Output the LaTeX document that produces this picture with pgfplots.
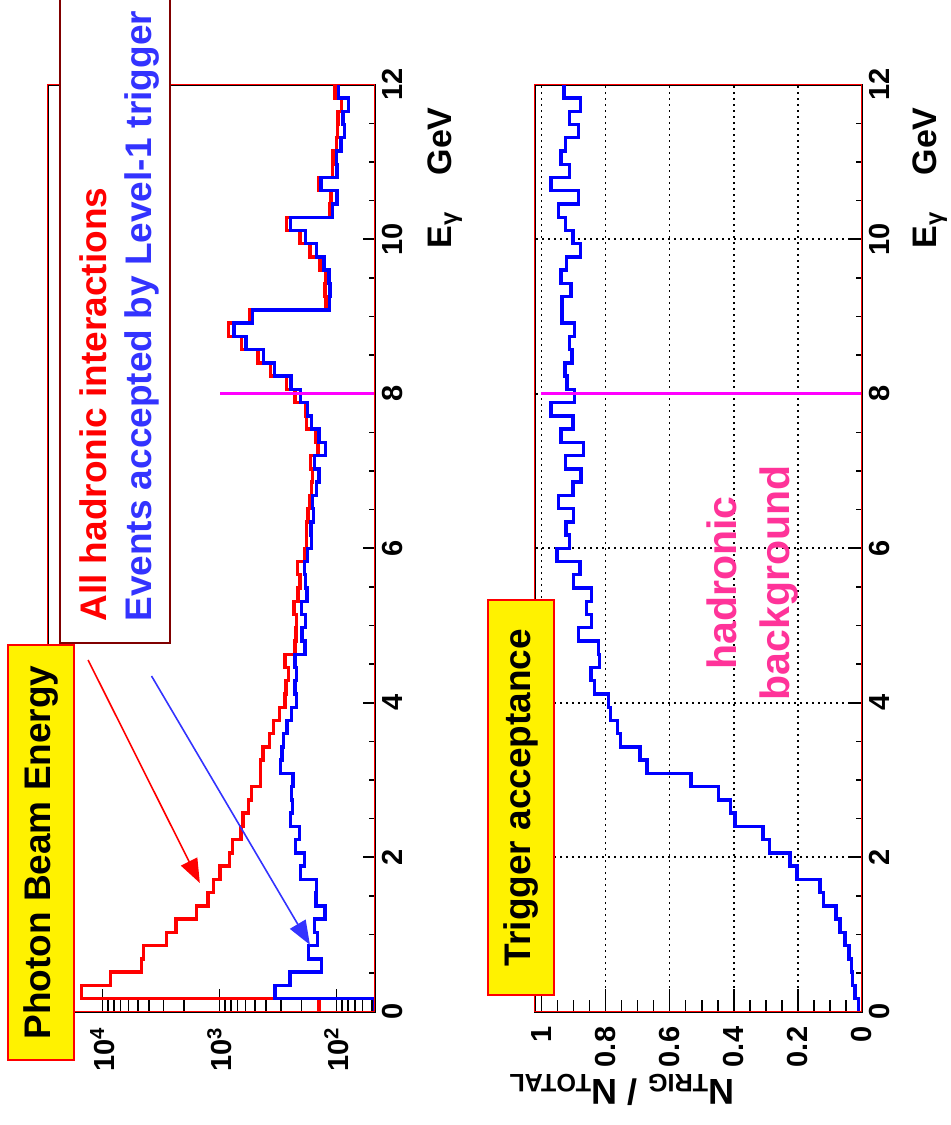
\documentclass[border=0pt]{standalone}
\usepackage{fontspec}
\setmainfont{Liberation Sans}
\usepackage{graphicx}
\usepackage{pgfplots}
\pgfplotsset{compat=1.18}
\usepackage{pgfplotstable}
\usetikzlibrary{arrows.meta}

\definecolor{hred}{RGB}{255,0,0}
\definecolor{hblue}{RGB}{0,0,255}
\definecolor{lblue}{RGB}{51,51,255}
\definecolor{magline}{RGB}{255,0,255}
\definecolor{pinktxt}{RGB}{255,51,153}
\definecolor{boxred}{RGB}{128,0,0}

% 70 bins of 12/70 GeV; x = left bin edge
\pgfplotstableread{
x red blue ratio
0 141 47 0.011
0.1714 15100 337 0.022
0.3429 8550 251 0.029
0.5143 4645 135 0.032
0.6857 4436 174 0.040
0.8571 2838 145 0.053
1.0286 2360 155 0.069
1.2000 1574 126 0.081
1.3714 1250 150 0.120
1.5429 1132 148 0.131
1.7143 993 204 0.203
1.8857 826 189 0.224
2.0571 774 225 0.289
2.2286 658 208 0.309
2.4000 628 248 0.396
2.5714 569 238 0.411
2.7429 532 244 0.448
2.9143 447 236 0.533
3.0857 445 300 0.671
3.2571 424 293 0.692
3.4286 376 283 0.754
3.6000 348 265 0.762
3.7714 309 243 0.785
3.9429 277 219 0.790
4.1143 271 226 0.835
4.2857 259 219 0.845
4.4571 277 226 0.818
4.6286 227 186 0.821
4.8000 223 197 0.884
4.9714 220 185 0.844
5.1429 232 199 0.860
5.3143 213 179 0.844
5.4857 206 185 0.899
5.6571 215 189 0.880
5.8286 187 177 0.951
6.0000 180 164 0.912
6.1714 180 166 0.923
6.3429 175 157 0.899
6.5143 169 160 0.946
6.6857 164 148 0.901
6.8571 160 141 0.876
7.0286 167 154 0.925
7.2000 144 125 0.868
7.3714 150 141 0.939
7.5429 180 163 0.901
7.7143 183 177 0.970
7.8857 227 203 0.896
8.0571 267 246 0.920
8.2286 366 340 0.926
8.4000 468 423 0.904
8.5714 649 592 0.912
8.7429 843 755 0.896
8.9143 557 521 0.936
9.0857 123 115 0.936
9.2571 126 114 0.908
9.4286 123 116 0.939
9.6000 139 128 0.922
9.7714 169 148 0.878
9.9429 206 185 0.901
10.1143 267 247 0.925
10.2857 114 108 0.946
10.4571 112 99 0.884
10.6286 141 136 0.970
10.8000 108 99 0.912
10.9714 107 100 0.939
11.1429 100 92 0.925
11.3143 98 86 0.884
11.4857 97 88 0.912
11.6571 91 79 0.878
11.8286 103 96 0.930
12.0000 103 96 0.930
}\histdata

\pgfplotsset{
  rootax/.style={
    scale only axis, width=463.5pt, height=163.5pt,
    xmin=0, xmax=12,
    xtick={0,2,4,6,8,10,12}, minor x tick num=3,
    tick pos=left, tick align=inside,
    axis line style={black, line width=1pt},
    every tick/.style={black, line width=0.8pt},
    xtick style={/pgfplots/major tick length=6pt, /pgfplots/minor tick length=3pt},
    ytick style={/pgfplots/major tick length=11.5pt, /pgfplots/minor tick length=6pt},
    tick label style={font=\fontsize{14.5}{16}\selectfont\bfseries},
    /pgf/number format/assume math mode=true,
    yticklabel style={xshift=-4pt},
    clip mode=individual,
  },
  histline/.style={const plot, line width=1.7pt},
}

\begin{document}
\rotatebox{90}{%
\begin{tikzpicture}[font=\bfseries]
\useasboundingbox (0,0) rectangle (562.5pt,475pt);

% ---------- top panel ----------
\begin{axis}[rootax, at={(56.6pt,287.5pt)}, anchor=south west,
  ymode=log, ymin=47, ymax=29200,
  ytick={100,1000,10000},
  yticklabels={10\textsuperscript{2},10\textsuperscript{3},10\textsuperscript{4}},
  minor ytick={50,60,70,80,90,200,300,400,500,600,700,800,900,2000,3000,4000,5000,6000,7000,8000,9000,20000},
]
\addplot[histline, hred] table[x=x, y=red]{\histdata};
\addplot[histline, hblue] table[x=x, y=blue]{\histdata};
\draw[magline, line width=1.5pt] (axis cs:8,47) -- (axis cs:8,1000);
\draw[hred, line width=0.8pt, -{Triangle[length=12pt,width=9pt]}] (axis cs:4.554,13270) -- (axis cs:1.667,1473);
\draw[lblue, line width=0.8pt, -{Triangle[length=12pt,width=9pt]}] (axis cs:4.347,3811) -- (axis cs:0.867,169);
\draw[hred, line width=0.5pt] (rel axis cs:0,0) rectangle (rel axis cs:1,1);
\end{axis}

% ---------- bottom panel ----------
\begin{axis}[rootax, at={(56.6pt,44pt)}, anchor=south west,
  ymin=0, ymax=1.02,
  ytick={0,0.2,0.4,0.6,0.8,1}, minor y tick num=3,
  grid=major, major grid style={black, line width=0.8pt, dash pattern=on 1pt off 2pt},
]
\addplot[histline, hblue] table[x=x, y=ratio]{\histdata};
\draw[magline, line width=1.5pt] (axis cs:8,0) -- (axis cs:8,1);
\draw[hred, line width=0.5pt] (rel axis cs:0,0) rectangle (rel axis cs:1,1);
\end{axis}

% axis titles
\node[anchor=base east, font=\fontsize{17}{20}\selectfont\bfseries, inner sep=0pt] at (509pt,249pt) {E\textsubscript{γ}\hspace{18pt}GeV};
\node[anchor=base east, font=\fontsize{17}{20}\selectfont\bfseries, inner sep=0pt] at (509pt,6.5pt) {E\textsubscript{γ}\hspace{18pt}GeV};
\node[rotate=90, anchor=base east, font=\fontsize{18}{20}\selectfont\bfseries, inner sep=0pt] at (22.5pt,221pt) {N\textsubscript{TRIG} / N\textsubscript{TOTAL}};

% hadronic background text
\node[anchor=base, text=pinktxt, font=\fontsize{20.5}{24}\selectfont\bfseries, inner sep=0pt] at (271pt,106.5pt) {hadronic};
\node[anchor=base, text=pinktxt, font=\fontsize{20.5}{24}\selectfont\bfseries, inner sep=0pt] at (271pt,80pt) {background};

% title boxes
\filldraw[fill=yellow, draw=hred, line width=0.6pt] (32.5pt,438pt) rectangle (240pt,471pt);
\node[font=\fontsize{18.5}{20}\selectfont\bfseries] at (136.25pt,454.5pt) {Photon Beam Energy};

\filldraw[fill=yellow, draw=hred, line width=0.6pt] (65pt,198pt) rectangle (262.5pt,231pt);
\node[font=\fontsize{18.5}{20}\selectfont\bfseries] at (163.75pt,214.5pt) {Trigger acceptance};

% legend box
\fill[white] (241pt,390pt) rectangle (575pt,445pt);
\draw[boxred, line width=0.6pt] (575pt,445pt) -- (241pt,445pt) -- (241pt,390pt) -- (575pt,390pt);
\node[anchor=base west, inner sep=0pt, text=hred, font=\fontsize{18.5}{20}\selectfont\bfseries] at (251.5pt,421.5pt) {All hadronic interactions};
\node[anchor=base west, inner sep=0pt, text=lblue, font=\fontsize{18.5}{20}\selectfont\bfseries] at (251.5pt,399pt) {Events accepted by Level-1 trigger};
\end{tikzpicture}}
\end{document}
